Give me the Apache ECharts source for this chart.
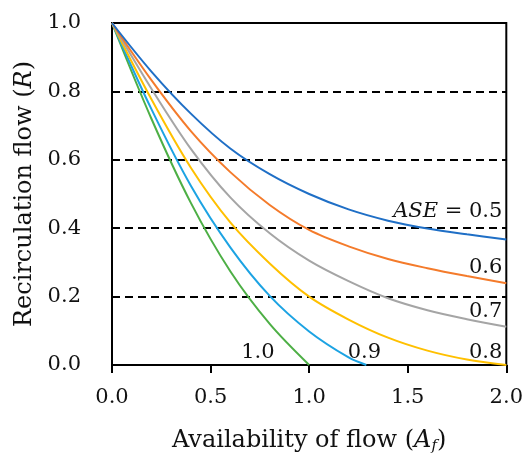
<!DOCTYPE html>
<html>
<head>
<meta charset="utf-8">
<script src="https://cdn.jsdelivr.net/npm/echarts@6/dist/echarts.min.js"></script>
<style>
html,body{margin:0;padding:0;background:#fff;}
#c{width:526px;height:459px;}
</style>
</head>
<body>
<div id="c"></div>
<script>
// Values
const afFull = [0, 0.2, 0.4, 0.6, 0.8, 1.0, 1.2, 1.4, 1.6, 1.8, 2.0];
const r05 = [1, 0.858, 0.735, 0.633, 0.558, 0.5, 0.455, 0.422, 0.399, 0.382, 0.367];
const r06 = [1, 0.833, 0.684, 0.564, 0.468, 0.395, 0.347, 0.31, 0.283, 0.26, 0.239];
const r07 = [1, 0.808, 0.632, 0.49, 0.385, 0.305, 0.245, 0.195, 0.16, 0.134, 0.112];
const r08 = [1, 0.777, 0.577, 0.417, 0.297, 0.2, 0.133, 0.08, 0.042, 0.016, 0];
const af09 = [0, 0.2, 0.4, 0.6, 0.8, 1.0, 1.2, 1.29];
const r09 = [1, 0.748, 0.524, 0.344, 0.202, 0.098, 0.022, 0];
const af10 = [0, 0.2, 0.4, 0.6, 0.8, 1.0];
const r10 = [1, 0.72, 0.474, 0.274, 0.12, 0];
const seriesNames = ['0.5', '0.6', '0.7', '0.8', '0.9', '1.0'];
const xTicks = [0, 0.5, 1.0, 1.5, 2.0];
const yTicks = [0, 0.2, 0.4, 0.6, 0.8, 1.0];

const colors = ['#1F6FC6', '#F47B2B', '#A5A5A5', '#FFC000', '#1CA3E3', '#4DAF45'];
const pairs = (xs, ys) => xs.map((x, k) => [x, ys[k]]);
const allData = [pairs(afFull, r05), pairs(afFull, r06), pairs(afFull, r07), pairs(afFull, r08), pairs(af09, r09), pairs(af10, r10)];
const labelPos = [[1.98, 0.45, 'right'], [1.98, 0.284, 'right'], [1.98, 0.156, 'right'], [1.98, 0.036, 'right'], [1.28, 0.036, 'center'], [0.74, 0.036, 'center']];
const FONT = 'DejaVu Serif';

const series = allData.map((d, i) => ({
  name: seriesNames[i],
  type: 'line',
  data: d,
  smooth: 0.33,
  showSymbol: false,
  symbol: 'none',
  lineStyle: {color: colors[i], width: 2},
  z: 3 + (5 - i),
  markPoint: {
    symbol: 'circle',
    symbolSize: 1,
    silent: true,
    itemStyle: {color: 'rgba(0,0,0,0)'},
    data: [{
      coord: [labelPos[i][0], labelPos[i][1]],
      label: {
        show: true,
        position: 'inside',
        align: labelPos[i][2],
        verticalAlign: 'middle',
        fontFamily: FONT,
        fontSize: 21,
        color: '#111',
        formatter: i === 0 ? '{i|ASE} = ' + seriesNames[i] : seriesNames[i],
        rich: {i: {fontStyle: 'italic', fontFamily: FONT, fontSize: 21, color: '#111'}}
      }
    }]
  }
}));

const chart = echarts.init(document.getElementById('c'), null, {renderer: 'canvas'});
chart.setOption({
  animation: false,
  backgroundColor: '#fff',
  grid: {left: 112, right: 13, top: 23, bottom: 93, show: true, borderColor: '#000', borderWidth: 2, backgroundColor: 'transparent'},
  xAxis: {
    type: 'value', min: xTicks[0], max: xTicks[xTicks.length - 1], interval: 0.5,
    name: 'Availability of flow ({i|A}{sub|f})',
    nameLocation: 'middle', nameGap: 62,
    nameTextStyle: {fontFamily: FONT, fontSize: 24, color: '#111',
      rich: {i: {fontStyle: 'italic', fontFamily: FONT, fontSize: 24, color: '#111'},
             sub: {fontStyle: 'italic', fontFamily: FONT, fontSize: 15, color: '#111', padding: [12, 0, 0, 0]}}},
    axisLine: {lineStyle: {color: '#000', width: 2}},
    axisTick: {show: true, inside: false, length: 8, lineStyle: {color: '#000', width: 2}},
    axisLabel: {margin: 22, fontFamily: FONT, fontSize: 21, color: '#111', formatter: v => v.toFixed(1)},
    splitLine: {show: false}
  },
  yAxis: {
    type: 'value', min: yTicks[0], max: yTicks[yTicks.length - 1], interval: 0.2,
    name: 'Recirculation flow ({i|R})',
    nameLocation: 'middle', nameGap: 64, nameRotate: 90,
    nameTextStyle: {fontFamily: FONT, fontSize: 24, color: '#111',
      rich: {i: {fontStyle: 'italic', fontFamily: FONT, fontSize: 24, color: '#111'}}},
    axisLine: {lineStyle: {color: '#000', width: 2}},
    axisTick: {show: false},
    axisLabel: {margin: 31, fontFamily: FONT, fontSize: 21, color: '#111', formatter: v => v.toFixed(1)},
    splitLine: {show: true, lineStyle: {color: '#000', width: 2, type: [8, 5]}}
  },
  series: series
});
</script>
</body>
</html>
